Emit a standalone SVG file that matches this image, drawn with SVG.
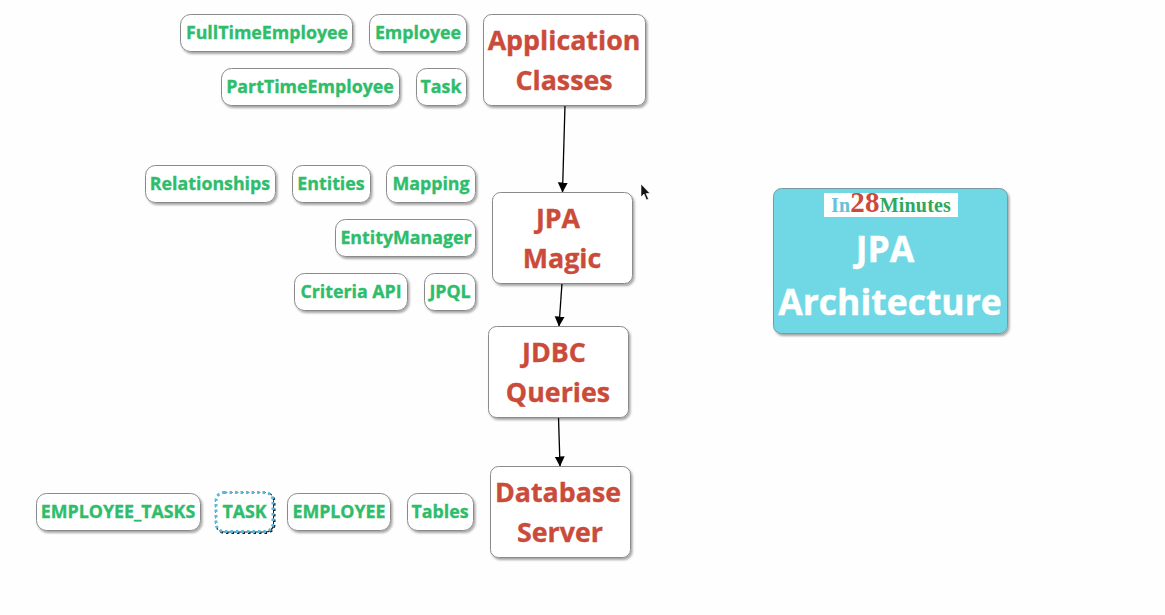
<svg xmlns="http://www.w3.org/2000/svg" width="1165" height="615" viewBox="0 0 1165 615">
<defs>
<filter id="sh" x="-20%" y="-20%" width="140%" height="140%"><feDropShadow dx="1.5" dy="2" stdDeviation="1.3" flood-color="#000" flood-opacity="0.35"/></filter>
<marker id="arr" markerUnits="userSpaceOnUse" markerWidth="10" markerHeight="12" refX="9.5" refY="5" orient="auto"><path d="M0 0L10 5L0 10Z" fill="#000"/></marker>
</defs>
<style>
text{font-family:"Open Sans","Noto Sans",sans-serif;font-weight:700;text-anchor:middle}
.s rect{fill:#fff;stroke:#8a8a8a;stroke-width:1;filter:url(#sh)}
.s text{fill:#2ebd6b;font-size:17.800px;stroke:#2ebd6b;stroke-width:0.35}
.b rect{fill:#fff;stroke:#8a8a8a;stroke-width:1;filter:url(#sh)}
.b text{fill:#cb4b3a;font-size:26.800px;stroke:#cb4b3a;stroke-width:0.35}
.c line{stroke:#000;stroke-width:1.3;marker-end:url(#arr)}
</style>
<rect width="1165" height="615" fill="#fefefe"/>
<g class="c" id="connectors">
<line x1="565" y1="105" x2="562.500" y2="192"/>
<line x1="562" y1="283" x2="559" y2="326"/>
<line x1="558.500" y1="417" x2="560" y2="466"/>
</g>
<g id="n-app" class="b"><rect x="483.500" y="14.500" width="162" height="91" rx="8"/><text x="564" y="50">Application</text><text x="564" y="90">Classes</text></g>
<g id="n-jpa" class="b"><rect x="492.500" y="192.500" width="140" height="91" rx="8"/><text x="558" y="228">JPA</text><text x="562" y="268">Magic</text></g>
<g id="n-jdbc" class="b"><rect x="488.500" y="326.500" width="140" height="91" rx="8"/><text x="554" y="362">JDBC</text><text x="558" y="402">Queries</text></g>
<g id="n-db" class="b"><rect x="490.500" y="466.500" width="140" height="91" rx="8"/><text x="558" y="502">Database</text><text x="560" y="542">Server</text></g>
<g id="n-fte" class="s"><rect x="180.500" y="14.500" width="172" height="37" rx="10"/><text x="267" y="39">FullTimeEmployee</text></g>
<g id="n-emp" class="s"><rect x="369.500" y="14.500" width="97" height="37" rx="10"/><text x="418" y="39">Employee</text></g>
<g id="n-pte" class="s"><rect x="221.500" y="68.500" width="178" height="37" rx="10"/><text x="310" y="93">PartTimeEmployee</text></g>
<g id="n-task" class="s"><rect x="416.500" y="68.500" width="50" height="37" rx="10"/><text x="441" y="93">Task</text></g>
<g id="n-rel" class="s"><rect x="145.500" y="165.500" width="130" height="37" rx="10"/><text x="210" y="190">Relationships</text></g>
<g id="n-ent" class="s"><rect x="292.500" y="165.500" width="78" height="37" rx="10"/><text x="331" y="190">Entities</text></g>
<g id="n-map" class="s"><rect x="386.500" y="165.500" width="89" height="37" rx="10"/><text x="431" y="190">Mapping</text></g>
<g id="n-em" class="s"><rect x="335.500" y="219.500" width="140" height="37" rx="10"/><text x="406" y="244">EntityManager</text></g>
<g id="n-crit" class="s"><rect x="294.500" y="273.500" width="113" height="37" rx="10"/><text x="351" y="298">Criteria API</text></g>
<g id="n-jpql" class="s"><rect x="424.500" y="273.500" width="51" height="37" rx="10"/><text x="450" y="298">JPQL</text></g>
<g id="n-et" class="s"><rect x="36.500" y="493.500" width="164" height="37" rx="10"/><text x="118" y="518">EMPLOYEE_TASKS</text></g>
<g id="n-t" class="s"><rect x="216" y="492.500" width="57" height="39" rx="8" style="stroke:#5cb8d8;stroke-width:3;stroke-dasharray:2.500 3;filter:drop-shadow(1.5px 1.5px 0.6px #123)"/><text x="244.500" y="518">TASK</text></g>
<g id="n-e" class="s"><rect x="287.500" y="493.500" width="103" height="37" rx="10"/><text x="339" y="518">EMPLOYEE</text></g>
<g id="n-tab" class="s"><rect x="407.500" y="493.500" width="66" height="37" rx="10"/><text x="440" y="518">Tables</text></g>
<g id="n-title">
<rect x="773.500" y="188.500" width="234" height="145" rx="8" fill="#6fd8e4" stroke="#7a9aa0" filter="url(#sh)"/>
<rect x="824" y="193" width="134" height="24" fill="#fff"/>
<text x="891" y="212" style="font-family:'Liberation Serif',serif;font-size:20px;letter-spacing:0.2px"><tspan fill="#66c2d6">In</tspan><tspan fill="#cb4b3a" font-size="29">28</tspan><tspan fill="#2fa85f">Minutes</tspan></text>
<text x="885" y="262" fill="#fff" stroke="#fff" stroke-width="0.4" font-size="35.500">JPA</text>
<text x="890" y="315" fill="#fff" stroke="#fff" stroke-width="0.4" font-size="35.500">Architecture</text>
</g>
<path d="M641 184V197L644 194L646.500 200L648.500 199L646 193.500L650 193.500Z" fill="#111" stroke="#fff" stroke-width="0.6"/>
</svg>
